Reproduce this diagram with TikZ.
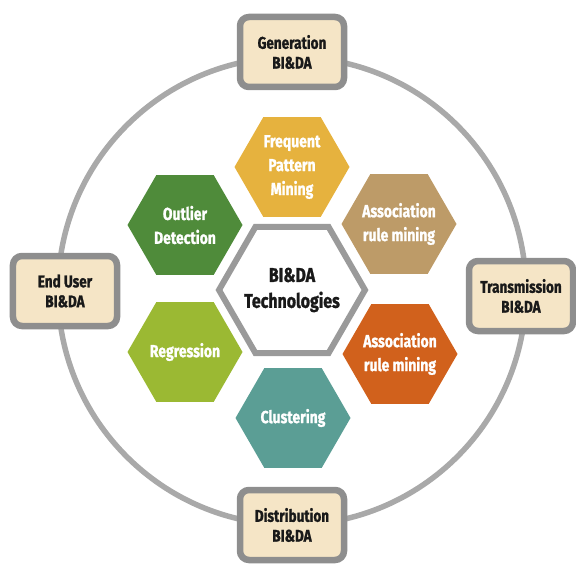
\documentclass[tikz,border=0pt]{standalone}
\usepackage{fontspec}
\setmainfont[FakeStretch=0.8, BoldFeatures={FakeBold=1.2}]{Fira Sans}
\usetikzlibrary{shapes.geometric}
\definecolor{ringgray}{HTML}{A9A9A9}
\definecolor{boxgray}{HTML}{8E8E8E}
\definecolor{boxfill}{HTML}{F5E5C6}
\definecolor{hexgray}{HTML}{9A9A9A}
\definecolor{cfreq}{HTML}{E6B23E}
\definecolor{cout}{HTML}{4F8B3A}
\definecolor{ctan}{HTML}{BD9B68}
\definecolor{creg}{HTML}{9BB933}
\definecolor{corange}{HTML}{D1611C}
\definecolor{cclus}{HTML}{5B9E95}
\tikzset{
  stagebox/.style={draw=boxgray, line width=6.5bp, fill=boxfill, rounded corners=9bp,
    minimum width=104bp, minimum height=70bp, align=center, text=black!90,
    font=\bfseries\fontsize{17}{20}\selectfont, inner sep=2bp},
  hexa/.style={regular polygon, regular polygon sides=6, minimum size=115bp,
    inner sep=-20bp, align=center, text=white, font=\bfseries\fontsize{17.5}{24}\selectfont},
  hexcenter/.style={regular polygon, regular polygon sides=6, minimum size=146bp,
    inner sep=-20bp, align=center, draw=hexgray, line width=6bp, fill=white,
    text=black!90, font=\bfseries\fontsize{20}{26}\selectfont},
}
\begin{document}
\begin{tikzpicture}[x=1bp,y=-1bp]
\useasboundingbox (0,0) rectangle (576,567);
\node[circle, draw=ringgray, line width=5.5bp, minimum size=468bp, inner sep=0pt] (ring) at (292,291) {};
\node[stagebox] (gen) at (292,52) {Generation\\BI\&DA};
\node[stagebox] (end) at (65,291) {End User\\BI\&DA};
\node[stagebox] (tra) at (521,296) {Transmission\\BI\&DA};
\node[stagebox] (dis) at (292,525) {Distribution\\BI\&DA};
\node[hexcenter] (core) at (292,290) {BI\&DA\\Technologies};
\node[hexa, fill=cfreq] (freq) at (292,167) {Frequent\\Pattern\\Mining};
\node[hexa, fill=cout] (outl) at (185,225) {Outlier\\Detection};
\node[hexa, fill=ctan] (assoc1) at (399,224) {Association\\rule mining};
\node[hexa, fill=creg] (regr) at (185,352) {Regression};
\node[hexa, fill=corange] (assoc2) at (400,354) {Association\\rule mining};
\node[hexa, fill=cclus] (clus) at (293,418) {Clustering};
\end{tikzpicture}
\end{document}
